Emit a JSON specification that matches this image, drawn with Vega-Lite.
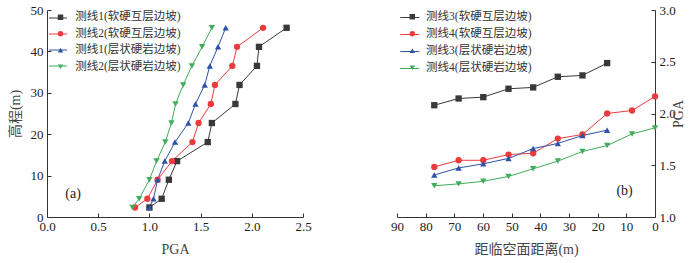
{
  "$schema": "https://vega.github.io/schema/vega-lite/v6.json",
  "padding": {"left": 8, "top": 4, "right": 5, "bottom": 5},
  "bounds": "flush",
  "spacing": 94,
  "config": {
    "view": {"stroke": null},
    "font": "Liberation Serif, Noto Sans CJK SC",
    "axis": {
      "grid": false,
      "domainColor": "#333333",
      "tickColor": "#333333",
      "tickSize": -4,
      "labelFont": "Liberation Serif",
      "labelFontSize": 13,
      "labelColor": "#222222",
      "titleFont": "Liberation Serif, Noto Sans CJK SC",
      "titleFontSize": 14,
      "titleFontWeight": "normal",
      "titleColor": "#444444"
    },
    "legend": {
      "orient": "none",
      "title": null,
      "labelFont": "Liberation Serif, Noto Sans CJK SC",
      "labelFontSize": 12.5,
      "labelColor": "#333333",
      "symbolStrokeWidth": 1,
      "padding": 0
    }
  },
  "datasets": {
    "a": [
      {"s": "测线1(软硬互层边坡)", "pga": 1.0, "h": 2.3},
      {"s": "测线1(软硬互层边坡)", "pga": 1.12, "h": 4.4},
      {"s": "测线1(软硬互层边坡)", "pga": 1.19, "h": 9.0},
      {"s": "测线1(软硬互层边坡)", "pga": 1.27, "h": 13.5},
      {"s": "测线1(软硬互层边坡)", "pga": 1.57, "h": 18.1},
      {"s": "测线1(软硬互层边坡)", "pga": 1.61, "h": 22.7},
      {"s": "测线1(软硬互层边坡)", "pga": 1.84, "h": 27.3},
      {"s": "测线1(软硬互层边坡)", "pga": 1.88, "h": 31.9},
      {"s": "测线1(软硬互层边坡)", "pga": 2.05, "h": 36.5},
      {"s": "测线1(软硬互层边坡)", "pga": 2.07, "h": 41.1},
      {"s": "测线1(软硬互层边坡)", "pga": 2.34, "h": 45.7},
      {"s": "测线2(软硬互层边坡)", "pga": 0.86, "h": 2.3},
      {"s": "测线2(软硬互层边坡)", "pga": 0.98, "h": 4.4},
      {"s": "测线2(软硬互层边坡)", "pga": 1.08, "h": 9.0},
      {"s": "测线2(软硬互层边坡)", "pga": 1.22, "h": 13.5},
      {"s": "测线2(软硬互层边坡)", "pga": 1.42, "h": 18.1},
      {"s": "测线2(软硬互层边坡)", "pga": 1.48, "h": 22.7},
      {"s": "测线2(软硬互层边坡)", "pga": 1.60, "h": 27.3},
      {"s": "测线2(软硬互层边坡)", "pga": 1.64, "h": 31.9},
      {"s": "测线2(软硬互层边坡)", "pga": 1.81, "h": 36.5},
      {"s": "测线2(软硬互层边坡)", "pga": 1.856, "h": 41.1},
      {"s": "测线2(软硬互层边坡)", "pga": 2.11, "h": 45.7},
      {"s": "测线1(层状硬岩边坡)", "pga": 1.0, "h": 2.3},
      {"s": "测线1(层状硬岩边坡)", "pga": 1.04, "h": 4.4},
      {"s": "测线1(层状硬岩边坡)", "pga": 1.08, "h": 9.0},
      {"s": "测线1(层状硬岩边坡)", "pga": 1.15, "h": 13.5},
      {"s": "测线1(层状硬岩边坡)", "pga": 1.25, "h": 18.1},
      {"s": "测线1(层状硬岩边坡)", "pga": 1.38, "h": 22.7},
      {"s": "测线1(层状硬岩边坡)", "pga": 1.45, "h": 27.3},
      {"s": "测线1(层状硬岩边坡)", "pga": 1.54, "h": 31.9},
      {"s": "测线1(层状硬岩边坡)", "pga": 1.59, "h": 36.5},
      {"s": "测线1(层状硬岩边坡)", "pga": 1.67, "h": 41.1},
      {"s": "测线1(层状硬岩边坡)", "pga": 1.745, "h": 45.7},
      {"s": "测线2(层状硬岩边坡)", "pga": 0.835, "h": 2.3},
      {"s": "测线2(层状硬岩边坡)", "pga": 0.90, "h": 4.4},
      {"s": "测线2(层状硬岩边坡)", "pga": 1.0, "h": 9.0},
      {"s": "测线2(层状硬岩边坡)", "pga": 1.07, "h": 13.5},
      {"s": "测线2(层状硬岩边坡)", "pga": 1.155, "h": 18.1},
      {"s": "测线2(层状硬岩边坡)", "pga": 1.215, "h": 22.7},
      {"s": "测线2(层状硬岩边坡)", "pga": 1.255, "h": 27.3},
      {"s": "测线2(层状硬岩边坡)", "pga": 1.33, "h": 31.9},
      {"s": "测线2(层状硬岩边坡)", "pga": 1.415, "h": 36.5},
      {"s": "测线2(层状硬岩边坡)", "pga": 1.515, "h": 41.1},
      {"s": "测线2(层状硬岩边坡)", "pga": 1.61, "h": 45.7}
    ],
    "b": [
      {"s": "测线3(软硬互层边坡)", "d": 77, "pga": 2.08},
      {"s": "测线3(软硬互层边坡)", "d": 68.5, "pga": 2.145},
      {"s": "测线3(软硬互层边坡)", "d": 59.9, "pga": 2.158},
      {"s": "测线3(软硬互层边坡)", "d": 51.1, "pga": 2.239},
      {"s": "测线3(软硬互层边坡)", "d": 42.5, "pga": 2.252},
      {"s": "测线3(软硬互层边坡)", "d": 33.9, "pga": 2.355},
      {"s": "测线3(软硬互层边坡)", "d": 25.3, "pga": 2.368},
      {"s": "测线3(软硬互层边坡)", "d": 16.7, "pga": 2.487},
      {"s": "测线4(软硬互层边坡)", "d": 77, "pga": 1.484},
      {"s": "测线4(软硬互层边坡)", "d": 68.5, "pga": 1.548},
      {"s": "测线4(软硬互层边坡)", "d": 59.9, "pga": 1.548},
      {"s": "测线4(软硬互层边坡)", "d": 51.1, "pga": 1.603},
      {"s": "测线4(软硬互层边坡)", "d": 42.5, "pga": 1.616},
      {"s": "测线4(软硬互层边坡)", "d": 33.9, "pga": 1.758},
      {"s": "测线4(软硬互层边坡)", "d": 25.3, "pga": 1.797},
      {"s": "测线4(软硬互层边坡)", "d": 16.7, "pga": 2.0},
      {"s": "测线4(软硬互层边坡)", "d": 8.0, "pga": 2.029},
      {"s": "测线4(软硬互层边坡)", "d": 0, "pga": 2.165},
      {"s": "测线3(层状硬岩边坡)", "d": 77, "pga": 1.406},
      {"s": "测线3(层状硬岩边坡)", "d": 68.5, "pga": 1.474},
      {"s": "测线3(层状硬岩边坡)", "d": 59.9, "pga": 1.514},
      {"s": "测线3(层状硬岩边坡)", "d": 51.1, "pga": 1.566},
      {"s": "测线3(层状硬岩边坡)", "d": 42.5, "pga": 1.661},
      {"s": "测线3(层状硬岩边坡)", "d": 33.9, "pga": 1.711},
      {"s": "测线3(层状硬岩边坡)", "d": 25.3, "pga": 1.787},
      {"s": "测线3(层状硬岩边坡)", "d": 16.7, "pga": 1.839},
      {"s": "测线4(层状硬岩边坡)", "d": 77, "pga": 1.302},
      {"s": "测线4(层状硬岩边坡)", "d": 68.5, "pga": 1.32},
      {"s": "测线4(层状硬岩边坡)", "d": 59.9, "pga": 1.345},
      {"s": "测线4(层状硬岩边坡)", "d": 51.1, "pga": 1.392},
      {"s": "测线4(层状硬岩边坡)", "d": 42.5, "pga": 1.466},
      {"s": "测线4(层状硬岩边坡)", "d": 33.9, "pga": 1.54},
      {"s": "测线4(层状硬岩边坡)", "d": 25.3, "pga": 1.633},
      {"s": "测线4(层状硬岩边坡)", "d": 16.7, "pga": 1.69},
      {"s": "测线4(层状硬岩边坡)", "d": 8.0, "pga": 1.803},
      {"s": "测线4(层状硬岩边坡)", "d": 0, "pga": 1.861}
    ],
    "la": [{"t": "(a)", "x": 0.255, "y": 5.5}],
    "lb": [{"t": "(b)", "x": 10.6, "y": 1.25}]
  },
  "resolve": {"scale": {"stroke": "independent", "fill": "independent", "shape": "independent"}, "legend": {"stroke": "independent", "fill": "independent", "shape": "independent"}},
  "hconcat": [
    {
      "width": 256,
      "height": 207,
      "layer": [
        {
          "data": {"name": "a"},
          "mark": {"type": "line", "strokeWidth": 1},
          "encoding": {
            "x": {"field": "pga", "type": "quantitative", "scale": {"domain": [0, 2.5], "nice": false}, "axis": {"title": "PGA", "values": [0, 0.5, 1, 1.5, 2, 2.5], "tickCount": 10, "format": ".1f", "labelPadding": 7, "titlePadding": 9, "labelFlush": false, "labelOverlap": false}},
            "y": {"field": "h", "type": "quantitative", "scale": {"domain": [0, 50], "nice": false}, "axis": {"title": "高程(m)", "values": [0, 10, 20, 30, 40, 50], "tickCount": 10, "labelPadding": 8, "titlePadding": 8, "labelFlush": false, "labelOverlap": false}},
            "order": {"field": "h"},
            "stroke": {"field": "s", "type": "nominal", "sort": null,
              "scale": {"domain": ["测线1(软硬互层边坡)", "测线2(软硬互层边坡)", "测线1(层状硬岩边坡)", "测线2(层状硬岩边坡)"], "range": ["#3a3838", "#ec3b3f", "#2e52a6", "#3fae5a"]},
              "legend": {"legendX": 1.5, "legendY": -1.5, "symbolType": "stroke", "symbolSize": 324, "symbolOffset": 0, "rowPadding": 0, "labelOpacity": 0, "labelLimit": 1, "labelOffset": -12}
            }
          }
        },
        {
          "data": {"name": "a"},
          "mark": {"type": "point", "filled": true, "size": 40, "opacity": 1},
          "encoding": {
            "x": {"field": "pga", "type": "quantitative"},
            "y": {"field": "h", "type": "quantitative"},
            "fill": {"field": "s", "type": "nominal", "sort": null,
              "scale": {"domain": ["测线1(软硬互层边坡)", "测线2(软硬互层边坡)", "测线1(层状硬岩边坡)", "测线2(层状硬岩边坡)", "-"], "range": ["#3a3838", "#ec3b3f", "#2e52a6", "#3fae5a", "#000000"]},
              "legend": {"legendX": 1.5, "legendY": 1.5, "values": ["测线1(软硬互层边坡)", "测线2(软硬互层边坡)", "测线1(层状硬岩边坡)", "测线2(层状硬岩边坡)"], "symbolSize": 30, "symbolOffset": 6.26, "labelOffset": 9, "rowPadding": 3.5, "labelFontSize": 11.5}},
            "shape": {"field": "s", "type": "nominal", "sort": null,
              "scale": {"domain": ["测线1(软硬互层边坡)", "测线2(软硬互层边坡)", "测线1(层状硬岩边坡)", "测线2(层状硬岩边坡)", "-"], "range": ["square", "circle", "triangle-up", "triangle-down", "cross"]},
              "legend": {"legendX": 1.5, "legendY": 1.5, "values": ["测线1(软硬互层边坡)", "测线2(软硬互层边坡)", "测线1(层状硬岩边坡)", "测线2(层状硬岩边坡)"], "symbolSize": 30, "symbolOffset": 6.26, "labelOffset": 9, "rowPadding": 3.5, "labelFontSize": 11.5}}
          }
        },
        {
          "data": {"name": "la"},
          "mark": {"type": "text", "fontSize": 14, "font": "Liberation Serif", "color": "#222222"},
          "encoding": {
            "x": {"field": "x", "type": "quantitative"},
            "y": {"field": "y", "type": "quantitative"},
            "text": {"field": "t"}
          }
        }
      ]
    },
    {
      "width": 258,
      "height": 207,
      "layer": [
        {
          "data": {"name": "b"},
          "mark": {"type": "line", "strokeWidth": 1},
          "encoding": {
            "x": {"field": "d", "type": "quantitative", "scale": {"domain": [90, 0], "nice": false, "zero": false}, "axis": {"title": "距临空面距离(m)", "values": [0, 10, 20, 30, 40, 50, 60, 70, 80, 90], "tickCount": 12, "labelPadding": 7, "titlePadding": 9, "labelFlush": false, "labelOverlap": false}},
            "y": {"field": "pga", "type": "quantitative", "scale": {"domain": [1, 3], "nice": false, "zero": false}, "axis": {"orient": "right", "title": "PGA", "titleAngle": 270, "values": [1, 1.5, 2, 2.5, 3], "tickCount": 10, "format": ".1f", "labelPadding": 8, "titlePadding": 10, "labelFlush": false, "labelOverlap": false}},
            "order": {"field": "d", "sort": "descending"},
            "stroke": {"field": "s", "type": "nominal", "sort": null,
              "scale": {"domain": ["测线3(软硬互层边坡)", "测线4(软硬互层边坡)", "测线3(层状硬岩边坡)", "测线4(层状硬岩边坡)"], "range": ["#3a3838", "#ec3b3f", "#2e52a6", "#3fae5a"]},
              "legend": {"legendX": 0, "legendY": -2.5, "symbolType": "stroke", "symbolSize": 361, "symbolOffset": 2.8, "rowPadding": 0, "labelOpacity": 0, "labelLimit": 1, "labelOffset": -12}
            }
          }
        },
        {
          "data": {"name": "b"},
          "mark": {"type": "point", "filled": true, "size": 40, "opacity": 1},
          "encoding": {
            "x": {"field": "d", "type": "quantitative"},
            "y": {"field": "pga", "type": "quantitative"},
            "fill": {"field": "s", "type": "nominal", "sort": null,
              "scale": {"domain": ["测线3(软硬互层边坡)", "测线4(软硬互层边坡)", "测线3(层状硬岩边坡)", "测线4(层状硬岩边坡)", "-"], "range": ["#3a3838", "#ec3b3f", "#2e52a6", "#3fae5a", "#000000"]},
              "legend": {"legendX": 0, "legendY": 1, "values": ["测线3(软硬互层边坡)", "测线4(软硬互层边坡)", "测线3(层状硬岩边坡)", "测线4(层状硬岩边坡)"], "symbolSize": 30, "symbolOffset": 9.56, "labelOffset": 8, "rowPadding": 4, "labelFontSize": 11.5}},
            "shape": {"field": "s", "type": "nominal", "sort": null,
              "scale": {"domain": ["测线3(软硬互层边坡)", "测线4(软硬互层边坡)", "测线3(层状硬岩边坡)", "测线4(层状硬岩边坡)", "-"], "range": ["square", "circle", "triangle-up", "triangle-down", "cross"]},
              "legend": {"legendX": 0, "legendY": 1, "values": ["测线3(软硬互层边坡)", "测线4(软硬互层边坡)", "测线3(层状硬岩边坡)", "测线4(层状硬岩边坡)"], "symbolSize": 30, "symbolOffset": 9.56, "labelOffset": 8, "rowPadding": 4, "labelFontSize": 11.5}}
          }
        },
        {
          "data": {"name": "lb"},
          "mark": {"type": "text", "fontSize": 14, "font": "Liberation Serif", "color": "#222222"},
          "encoding": {
            "x": {"field": "x", "type": "quantitative"},
            "y": {"field": "y", "type": "quantitative"},
            "text": {"field": "t"}
          }
        }
      ]
    }
  ]
}
